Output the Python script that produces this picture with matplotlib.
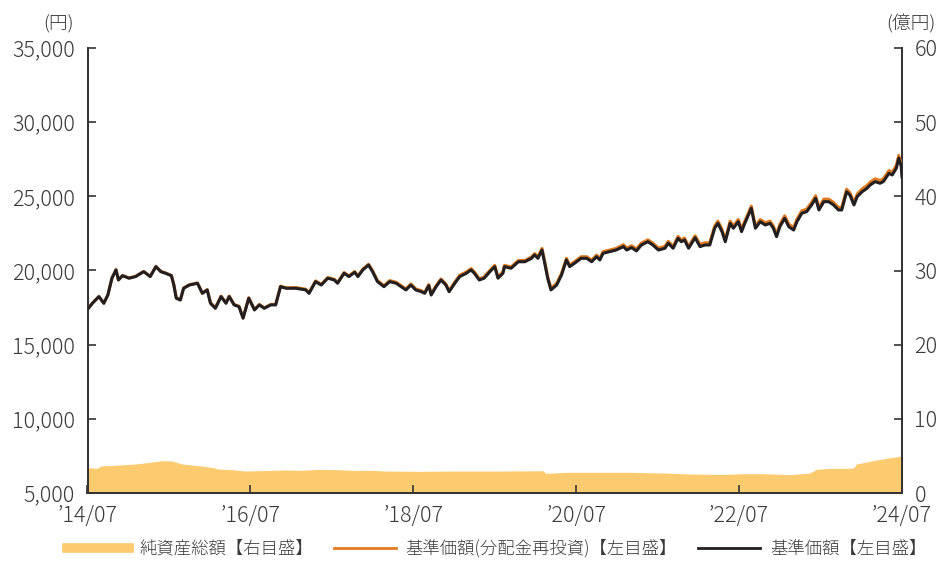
import matplotlib
matplotlib.use("Agg")
import matplotlib.pyplot as plt
from matplotlib.lines import Line2D
from matplotlib.ticker import FuncFormatter

plt.rcParams['font.family'] = ['Noto Sans CJK JP', 'DejaVu Sans']
plt.rcParams['font.weight'] = 'light'

# 日付（小数年）
dates = [2014.51, 2014.56, 2014.64, 2014.70, 2014.75, 2014.80, 2014.85, 2014.88, 2014.93,
         2015.01, 2015.09, 2015.19, 2015.27, 2015.34, 2015.40, 2015.46, 2015.53, 2015.56,
         2015.59, 2015.64, 2015.68, 2015.75, 2015.85, 2015.91, 2015.97,
         2016.01, 2016.07, 2016.14, 2016.20, 2016.24, 2016.30, 2016.36, 2016.41, 2016.48,
         2016.55, 2016.61, 2016.67, 2016.75, 2016.81, 2016.87, 2016.94,
         2017.06, 2017.18, 2017.22, 2017.30, 2017.37, 2017.45, 2017.53, 2017.57, 2017.65,
         2017.71, 2017.78, 2017.82, 2017.88, 2017.95,
         2018.00, 2018.06, 2018.14, 2018.21, 2018.29, 2018.35, 2018.41, 2018.47, 2018.53,
         2018.60, 2018.64, 2018.69, 2018.72, 2018.78, 2018.84, 2018.90, 2018.94,
         2019.01, 2019.07, 2019.15, 2019.21, 2019.25, 2019.31, 2019.37, 2019.44, 2019.50,
         2019.54, 2019.60, 2019.62, 2019.70, 2019.79, 2019.87, 2019.95, 2019.99,
         2020.03, 2020.08, 2020.11, 2020.15, 2020.19, 2020.26, 2020.32, 2020.38, 2020.42,
         2020.48, 2020.56, 2020.63, 2020.69, 2020.75, 2020.79, 2020.83, 2020.91, 2020.99,
         2021.08, 2021.12, 2021.18, 2021.24, 2021.30, 2021.38, 2021.44, 2021.51, 2021.59,
         2021.63, 2021.69, 2021.75, 2021.79, 2021.83, 2021.88, 2021.96,
         2022.02, 2022.08, 2022.14, 2022.20, 2022.24, 2022.29, 2022.33, 2022.39, 2022.43,
         2022.49, 2022.53, 2022.57, 2022.65, 2022.70, 2022.76, 2022.82, 2022.88, 2022.92,
         2022.96,
         2023.00, 2023.06, 2023.11, 2023.17, 2023.21, 2023.27, 2023.33, 2023.39, 2023.44,
         2023.48, 2023.54, 2023.60, 2023.66, 2023.72, 2023.76, 2023.82, 2023.86, 2023.91,
         2023.95,
         2024.01, 2024.07, 2024.11, 2024.17, 2024.23, 2024.27, 2024.34, 2024.38, 2024.43,
         2024.46, 2024.49, 2024.50]

# 基準価額（円）
nav = [17450, 17790, 18240, 17790, 18350, 19480, 20040, 19360, 19650,
       19480, 19590, 19920, 19590, 20260, 19920, 19810, 19650, 19020,
       18130, 18010, 18800, 19020, 19140, 18460, 18690,
       17790, 17450, 18240, 17790, 18240, 17680, 17560, 16780, 18130,
       17340, 17680, 17450, 17680, 17680, 18910, 18800,
       18800, 18690, 18460, 19250, 19020, 19480, 19360, 19140, 19810,
       19590, 19880, 19590, 20040, 20370,
       19920, 19250, 18910, 19250, 19140, 18910, 18690, 19020, 18690,
       18570, 18460, 18980, 18350, 18910, 19360, 19020, 18570,
       19140, 19590, 19810, 20040, 19810, 19360, 19480, 19920, 20260,
       19480, 19810, 20260, 20150, 20590, 20590, 20820, 21050,
       20820, 21380, 20590, 19480, 18690, 19020, 19700, 20710, 20260,
       20490, 20820, 20820, 20590, 20930, 20710, 21160, 21270, 21380,
       21610, 21380, 21540, 21320, 21720, 21940, 21720, 21380, 21500,
       21840, 21500, 22170, 21940, 22060, 21500, 22210,
       21610, 21720, 21720, 22850, 23180, 22620, 21940, 23180, 22850,
       23290, 22620, 23180, 24190, 22850, 23290, 23070, 23180, 22850,
       22280,
       22950, 23520, 22950, 22730, 23290, 23860, 23970, 24420, 24870,
       24080, 24640, 24640, 24420, 24080, 24080, 25310, 25090, 24420,
       24980,
       25310, 25540, 25770, 25990, 25880, 25990, 26550, 26440, 26890,
       27570, 27050, 26300]

# 基準価額（分配金再投資）（円）
nav_reinv = [17460, 17800, 18250, 17800, 18360, 19490, 20050, 19370, 19660,
             19500, 19610, 19940, 19610, 20280, 19940, 19830, 19670, 19040,
             18150, 18030, 18820, 19040, 19160, 18480, 18710,
             17825, 17485, 18275, 17825, 18275, 17715, 17595, 16815, 18165,
             17375, 17715, 17485, 17715, 17715, 18945, 18835,
             18850, 18740, 18510, 19300, 19070, 19530, 19410, 19190, 19860,
             19640, 19930, 19640, 20090, 20420,
             19990, 19320, 18980, 19320, 19210, 18980, 18760, 19090, 18760,
             18640, 18530, 19050, 18420, 18980, 19430, 19090, 18640,
             19230, 19680, 19900, 20130, 19900, 19450, 19570, 20010, 20350,
             19570, 19900, 20350, 20240, 20680, 20680, 20910, 21140,
             20930, 21490, 20700, 19590, 18800, 19130, 19810, 20820, 20370,
             20600, 20930, 20930, 20700, 21040, 20820, 21270, 21380, 21490,
             21740, 21510, 21670, 21450, 21850, 22070, 21850, 21510, 21630,
             21970, 21630, 22300, 22070, 22190, 21630, 22340,
             21760, 21870, 21870, 23000, 23330, 22770, 22090, 23330, 23000,
             23440, 22770, 23330, 24340, 23000, 23440, 23220, 23330, 23000,
             22430,
             23120, 23690, 23120, 22900, 23460, 24030, 24140, 24590, 25040,
             24250, 24810, 24810, 24590, 24250, 24250, 25480, 25260, 24590,
             25150,
             25500, 25730, 25960, 26180, 26070, 26180, 26740, 26630, 27080,
             27760, 27240, 26490]

# 純資産総額（億円）
asset_dates = [2014.50, 2014.62, 2014.66, 2014.89, 2015.09, 2015.27, 2015.42, 2015.54,
               2015.66, 2015.87, 2016.05, 2016.10, 2016.28, 2016.44, 2016.73, 2016.94,
               2017.10, 2017.35, 2017.59, 2017.76, 2018.00, 2018.17, 2018.58, 2018.99,
               2019.52, 2020.09, 2020.13, 2020.38, 2020.75, 2021.16, 2021.57, 2021.90,
               2022.14, 2022.35, 2022.55, 2022.80, 2023.13, 2023.37, 2023.45, 2023.62,
               2023.86, 2023.91, 2023.94, 2024.19, 2024.36, 2024.50]
net_assets = [3.41, 3.33, 3.64, 3.77, 3.91, 4.14, 4.36, 4.31,
              3.91, 3.68, 3.41, 3.23, 3.14, 2.96, 3.05, 3.10,
              3.05, 3.19, 3.14, 3.05, 3.05, 2.96, 2.92, 2.96,
              2.96, 3.00, 2.65, 2.79, 2.79, 2.79, 2.70, 2.56,
              2.52, 2.52, 2.60, 2.60, 2.47, 2.70, 3.19, 3.33,
              3.33, 3.41, 3.91, 4.45, 4.76, 4.99]

tick_pos = [2014.5, 2016.5, 2018.5, 2020.5, 2022.5, 2024.5]
tick_labels = ['\u201914/07', '\u201916/07', '\u201918/07', '\u201920/07', '\u201922/07', '\u201924/07']

text_c = '#3a3a3a'
spine_c = '#333333'

fig = plt.figure(figsize=(9.37, 5.61), dpi=100)
ax = fig.add_axes([87.5 / 937, 1 - 493 / 561, (902 - 87.5) / 937, (493 - 48) / 561])
ax2 = ax.twinx()

# 純資産総額（右軸）を背面に
ax2.fill_between(asset_dates, net_assets, 0, color='#FDCB6F', lw=0, zorder=1)
ax2.set_ylim(0, 60)
ax2.set_yticks(range(0, 61, 10))

ax.set_zorder(ax2.get_zorder() + 1)
ax.patch.set_visible(False)
ax.plot(dates, nav_reinv, color='#E07A1F', lw=2.2, zorder=3)
ax.plot(dates, nav, color='#231F20', lw=2.2, zorder=4)
ax.set_ylim(5000, 35000)
ax.set_yticks(range(5000, 35001, 5000))
ax.yaxis.set_major_formatter(FuncFormatter(lambda v, p: f'{v:,.0f}'))
ax.set_xlim(2014.5, 2024.5)
ax.set_xticks(tick_pos)
ax.set_xticklabels(tick_labels)

for a in (ax, ax2):
    a.spines['top'].set_visible(False)
    for s in ('left', 'right', 'bottom'):
        a.spines[s].set_color(spine_c)
        a.spines[s].set_linewidth(1.3)
ax.tick_params(axis='y', direction='in', length=6, width=1.2, color=spine_c,
               labelsize=15.5, labelcolor=text_c, pad=9)
ax.tick_params(axis='x', direction='in', length=6, width=1.2, color=spine_c,
               labelsize=15.5, labelcolor=text_c, pad=9)
ax2.tick_params(axis='y', direction='in', length=6, width=1.2, color=spine_c,
                labelsize=15.5, labelcolor=text_c, pad=9)
# 右軸の「0」は日付ラベルに少しだけかからないよう上寄せ
ax2.get_yticklabels()[0].set_va('center_baseline')

fig.text(74 / 937, 1 - 24 / 561, '(円)', ha='right', va='center', fontsize=13.5, color=text_c)
fig.text(936 / 937, 1 - 24 / 561, '(億円)', ha='right', va='center', fontsize=13.5, color=text_c)

handles = [Line2D([], [], color='#FDCB6F', lw=7),
           Line2D([], [], color='#E07A1F', lw=2),
           Line2D([], [], color='#231F20', lw=2)]
labels = ['純資産総額【右目盛】', '基準価額(分配金再投資)【左目盛】', '基準価額【左目盛】']
fig.legend(handles, labels, loc='lower center', bbox_to_anchor=(0.53, -0.022), ncol=3,
           frameon=False, fontsize=12.5, handlelength=3.6, handletextpad=0.55,
           columnspacing=1.2, labelcolor=text_c)

fig.savefig('out.png', dpi=100)
